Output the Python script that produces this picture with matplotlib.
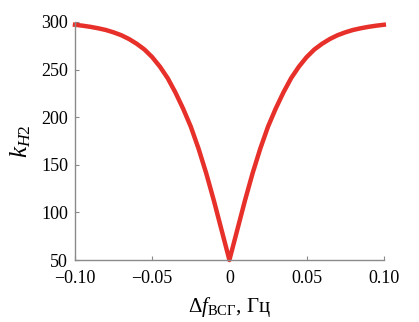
import numpy as np
import matplotlib
matplotlib.use("Agg")
import matplotlib.pyplot as plt
from matplotlib.ticker import FixedLocator, FixedFormatter

plt.rcParams['font.family'] = ['Liberation Serif', 'DejaVu Serif']
plt.rcParams['mathtext.fontset'] = 'custom'
plt.rcParams['mathtext.rm'] = 'Liberation Serif'
plt.rcParams['mathtext.it'] = 'Liberation Serif:italic'
plt.rcParams['mathtext.bf'] = 'Liberation Serif:bold'

# values (half curve, mirrored about 0)
df_half = [0.0, 0.005, 0.01, 0.015, 0.02, 0.025, 0.03, 0.035, 0.04, 0.045, 0.05,
           0.055, 0.06, 0.065, 0.07, 0.075, 0.08, 0.085, 0.09, 0.095, 0.10]
k_half = [50, 81, 112, 141, 167, 190, 209, 226, 241, 253, 263,
          271, 277, 282, 286, 289, 291.5, 293.3, 294.8, 296, 297]

df = [-v for v in df_half[::-1]] + df_half[1:]
k = k_half[::-1] + k_half[1:]

xticks = [-0.10, -0.05, 0, 0.05, 0.10]
xticklabels = ["\u22120.10", "\u22120.05", "0", "0.05", "0.10"]
yticks = [50, 100, 150, 200, 250, 300]

fig = plt.figure(figsize=(4.19, 3.22), dpi=100)
ax = fig.add_axes([0.179, 0.1925, 0.737, 0.7395])

ax.plot(df, k, color="#e8302a", linewidth=3.2, clip_on=False, solid_joinstyle="round")

ax.set_xlim(-0.10, 0.10)
ax.set_ylim(50, 300)
ax.xaxis.set_major_locator(FixedLocator(xticks))
ax.xaxis.set_major_formatter(FixedFormatter(xticklabels))
ax.set_yticks(yticks)

for s in ["top", "right"]:
    ax.spines[s].set_visible(False)
for s in ["left", "bottom"]:
    ax.spines[s].set_color("#8a8a8a")
    ax.spines[s].set_linewidth(1.0)
ax.tick_params(direction="in", length=3, color="#8a8a8a", labelsize=13)
ax.tick_params(axis="x", pad=7)
ax.tick_params(axis="y", pad=5)
for lbl in ax.get_yticklabels():
    lbl.set_verticalalignment("center_baseline")

ax.set_ylabel(r"$k_{H2}$", fontsize=18, labelpad=6)
ax.set_xlabel(r"$\mathit{Δf}_{\mathrm{ВСГ}}$, Гц", fontsize=15, labelpad=6)

fig.savefig("out.png", dpi=100)
